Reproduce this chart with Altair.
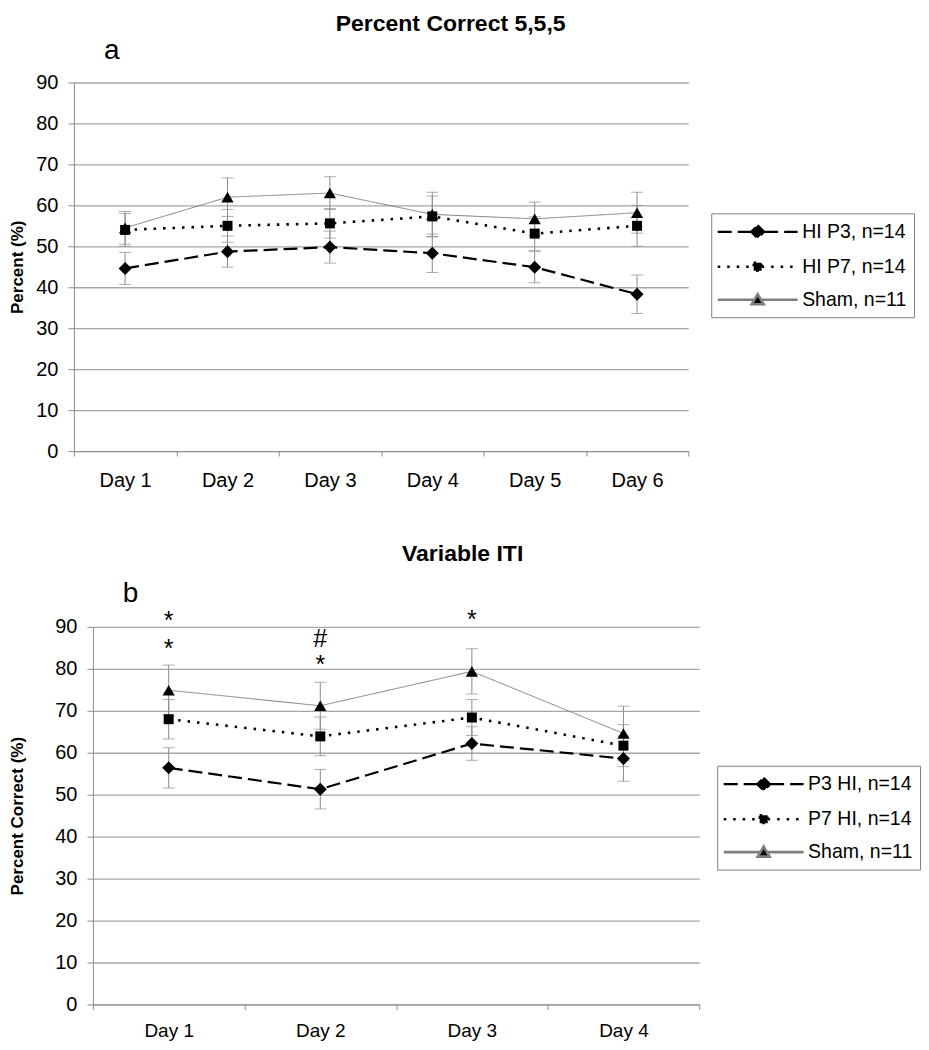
import altair as alt
import pandas as pd

FONT = "Liberation Sans"

# ---------------- data: panel a ----------------
DAYS_A = ["Day 1", "Day 2", "Day 3", "Day 4", "Day 5", "Day 6"]
SERIES_A = ["HI P3, n=14", "HI P7, n=14", "Sham, n=11"]
A_P3 = [44.6, 48.7, 49.8, 48.3, 44.9, 38.3]
A_P3_SE = [3.9, 3.8, 3.9, 4.7, 3.8, 4.7]
A_P7 = [54.0, 55.0, 55.6, 57.3, 53.1, 55.0]
A_P7_SE = [4.0, 4.0, 3.6, 5.0, 4.1, 5.0]
A_SHAM = [54.5, 62.0, 63.0, 57.8, 56.7, 58.2]
A_SHAM_SE = [4.0, 4.7, 4.0, 5.4, 4.1, 5.0]

# ---------------- data: panel b ----------------
DAYS_B = ["Day 1", "Day 2", "Day 3", "Day 4"]
SERIES_B = ["P3 HI, n=14", "P7 HI, n=14", "Sham, n=11"]
B_P3 = [56.4, 51.3, 62.2, 58.6]
B_P3_SE = [4.8, 4.7, 4.0, 5.4]
B_P7 = [68.0, 63.9, 68.4, 61.7]
B_P7_SE = [4.7, 4.6, 4.3, 5.0]
B_SHAM = [74.9, 71.2, 79.4, 64.6]
B_SHAM_SE = [6.0, 5.6, 5.4, 6.5]

# significance marks in panel b
ANN_DAYS = ["Day 1", "Day 1", "Day 2", "Day 2", "Day 3"]
ANN_VALUES = [92.9, 86.3, 87.4, 82.4, 93.3]
ANN_TEXT = ["*", "*", "#", "*", "*"]

Y_TICKS = [0, 10, 20, 30, 40, 50, 60, 70, 80, 90]

# ---------------- styles ----------------
DASHES = [[14, 6], [2.5, 7], [1, 0]]
LINE_COLORS = ["black", "black", "#7f7f7f"]
MARKER_FILLS = ["black", "black", "black"]
LINE_WIDTHS = [2.2, 2.6, 1.0]
MARKERS = ["diamond", "square", "triangle-up"]
MARKER_SIZES = [170, 100, 150]
# legend glyphs: a line segment on each side of the marker
LEGEND_PATHS = [
    "M-4,0H-0.65M0.65,0H4M0,-0.65L0.65,0L0,0.65L-0.65,0Z",
    "M-4,0H-0.4M0.4,0H4M-0.4,-0.4H0.4V0.4H-0.4Z",
    "M-4,0H-0.35M0.35,0H4M0,-0.55L0.6,0.45H-0.6Z",
]
GRID = "#a6a6a6"
AXIS_GRAY = "#8c8c8c"
ERR_GRAY = "#8c8c8c"


def long_table(days, series, means, ses):
    rows = []
    for s, m, e in zip(series, means, ses):
        for d, v, se in zip(days, m, e):
            rows.append({"day": d, "series": s, "value": v,
                         "lo": v - se, "hi": v + se})
    return pd.DataFrame(rows)


def panel(df, days, series, width, height, shift, ytitle, ytitle_pad,
          xlabel_size, xlabel_pad, letter, letter_offset, title, title_dx,
          title_offset, legend_xy, ann=None):
    xscale = alt.Scale(type="band", paddingInner=0, paddingOuter=0)
    if shift:
        xscale = alt.Scale(type="band", paddingInner=0, paddingOuter=0,
                           range=[shift, width])

    def X():
        return alt.X(
            "day:N", sort=days, title=None, bandPosition=0.5, scale=xscale,
            axis=alt.Axis(labelFont=FONT, labelFontSize=xlabel_size,
                          labelColor="black", labelAngle=0,
                          labelPadding=xlabel_pad, tickBand="extent",
                          tickSize=5, tickColor=AXIS_GRAY, domainColor=AXIS_GRAY,
                          domainWidth=1, grid=False))

    def Y(field):
        return alt.Y(
            field, title=ytitle,
            scale=alt.Scale(domain=[0, 90], nice=False),
            axis=alt.Axis(values=Y_TICKS, labelFont=FONT, labelFontSize=20,
                          labelColor="black", labelPadding=10, tickSize=6,
                          tickColor=AXIS_GRAY, domainColor=AXIS_GRAY,
                          domainWidth=1, gridColor=GRID, gridWidth=1.3,
                          offset=-shift,
                          titleFont=FONT, titleFontSize=17,
                          titleFontWeight="bold", titleColor="black",
                          titlePadding=ytitle_pad))

    base = alt.Chart(df)
    layers = [
        base.mark_rule(color=ERR_GRAY, strokeWidth=1).encode(
            x=X(), y=Y("lo:Q"), y2="hi:Q"),
        base.mark_tick(color=ERR_GRAY, thickness=1, size=12).encode(
            x=X(), y=Y("lo:Q")),
        base.mark_tick(color=ERR_GRAY, thickness=1, size=12).encode(
            x=X(), y=Y("hi:Q")),
    ]
    for i, s in enumerate(series):
        layers.append(
            base.transform_filter(alt.datum.series == s).mark_line(
                color=LINE_COLORS[i], strokeDash=DASHES[i],
                strokeWidth=LINE_WIDTHS[i]).encode(x=X(), y=Y("value:Q")))
    for i, s in enumerate(series):
        layers.append(
            base.transform_filter(alt.datum.series == s).mark_point(
                shape=MARKERS[i], filled=True, color="black", opacity=1,
                size=MARKER_SIZES[i]).encode(x=X(), y=Y("value:Q")))

    leg = alt.Legend(
        title=None, orient="none", legendX=legend_xy[0], legendY=legend_xy[1],
        strokeColor="#808080", fillColor="white", padding=7,
        labelFont=FONT, labelFontSize=19.5, labelColor="black", labelLimit=400,
        symbolSize=400, symbolOffset=28, labelOffset=33, rowPadding=12,
        symbolOpacity=1, symbolFillColor="black")
    layers.append(
        base.mark_point(filled=True, color="black", opacity=0, size=1).encode(
            x=X(), y=Y("value:Q"),
            shape=alt.Shape("series:N", legend=leg,
                            scale=alt.Scale(domain=series, range=LEGEND_PATHS)),
            strokeDash=alt.StrokeDash("series:N", legend=leg,
                                      scale=alt.Scale(domain=series, range=DASHES)),
            stroke=alt.Stroke("series:N", legend=leg,
                              scale=alt.Scale(domain=series, range=LINE_COLORS)),
            fill=alt.Fill("series:N", legend=leg,
                          scale=alt.Scale(domain=series, range=MARKER_FILLS)),
            strokeWidth=alt.StrokeWidth("series:N", legend=leg,
                                        scale=alt.Scale(domain=series, range=LINE_WIDTHS)),
        ))

    if ann is not None:
        ann_base = alt.Chart(ann)
        layers.append(
            ann_base.transform_filter(alt.datum.label == "*").mark_text(
                font=FONT, fontSize=25, color="black", baseline="alphabetic",
                dy=14.5).encode(x=X(), y=Y("value:Q"), text="label:N"))
        layers.append(
            ann_base.transform_filter(alt.datum.label == "#").mark_text(
                font=FONT, fontSize=25, color="black", baseline="alphabetic",
                dy=9).encode(x=X(), y=Y("value:Q"), text="label:N"))

    inner = alt.layer(*layers).properties(
        width=width, height=height,
        title=alt.TitleParams(text=letter, anchor="start", frame="group",
                              font=FONT, fontSize=28, fontWeight="normal",
                              color="black", dx=30 + shift, offset=letter_offset))
    return alt.vconcat(inner, title=alt.TitleParams(
        text=title, anchor="middle", font=FONT, fontSize=23,
        fontWeight="bold", color="black", dx=title_dx, offset=title_offset))


df_a = long_table(DAYS_A, SERIES_A, [A_P3, A_P7, A_SHAM],
                  [A_P3_SE, A_P7_SE, A_SHAM_SE])
df_b = long_table(DAYS_B, SERIES_B, [B_P3, B_P7, B_SHAM],
                  [B_P3_SE, B_P7_SE, B_SHAM_SE])
ann_b = pd.DataFrame({"day": ANN_DAYS, "value": ANN_VALUES, "label": ANN_TEXT})

pa = panel(df_a, DAYS_A, SERIES_A, 615, 369, 0, "Percent (%)", 9, 20, 14,
           "a", 8, "Percent Correct 5,5,5", -11, 1, (638, 131))
pb = panel(df_b, DAYS_B, SERIES_B, 626, 378, 19, "Percent Correct (%)", 28,
           19, 12, "b", 0, "Variable ITI", -2, 14, (644, 139), ann=ann_b)

chart = alt.vconcat(pa, pb, spacing=52).properties(
    padding={"left": 0, "top": 4, "right": 0, "bottom": 0}
).resolve_scale(
    shape="independent", strokeDash="independent", fill="independent",
    stroke="independent", strokeWidth="independent"
).resolve_legend(
    shape="independent", strokeDash="independent", fill="independent",
    stroke="independent", strokeWidth="independent"
).configure_view(strokeWidth=0)

chart.save("out.html", embed_options={"renderer": "svg", "actions": False})
